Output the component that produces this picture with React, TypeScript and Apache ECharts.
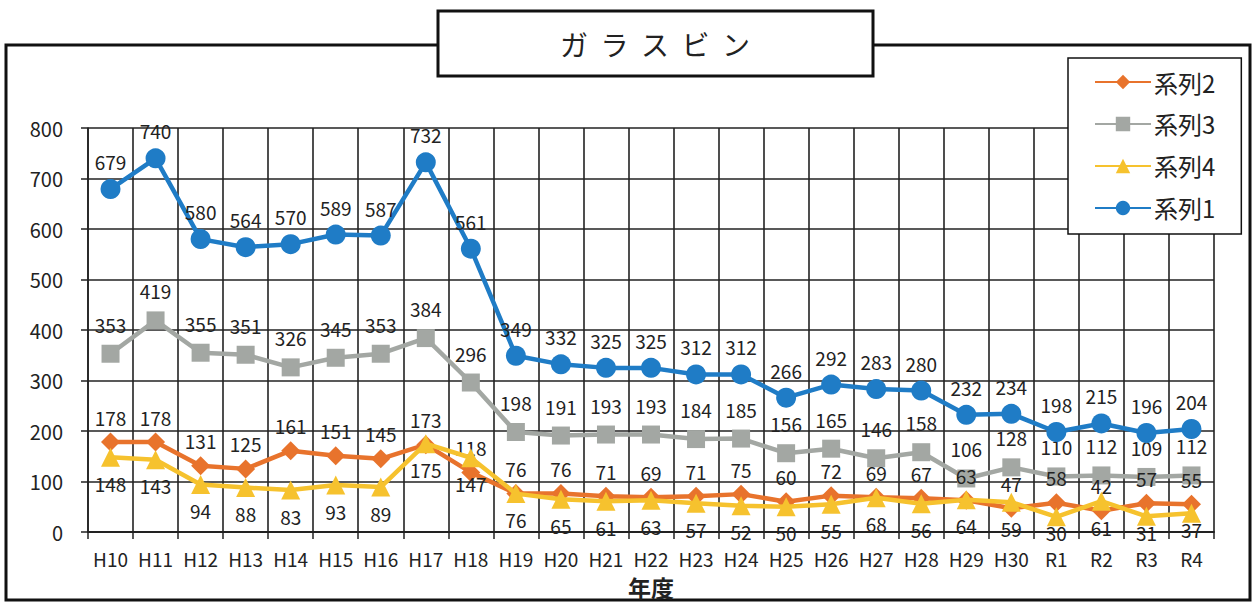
import React, { useEffect, useRef } from "react";
import * as echarts from "echarts";

const categories = ["H10","H11","H12","H13","H14","H15","H16","H17","H18","H19","H20","H21","H22","H23","H24","H25","H26","H27","H28","H29","H30","R1","R2","R3","R4"];
const series1 = [679,740,580,564,570,589,587,732,561,349,332,325,325,312,312,266,292,283,280,232,234,198,215,196,204];
const series2 = [178,178,131,125,161,151,145,173,118,76,76,71,69,71,75,60,72,69,67,63,47,58,42,57,55];
const series3 = [353,419,355,351,326,345,353,384,296,198,191,193,193,184,185,156,165,146,158,106,128,110,112,109,112];
const series4 = [148,143,94,88,83,93,89,175,147,76,65,61,63,57,52,50,55,68,56,64,59,30,61,31,37];
const yTicks = { min: 0, max: 800, interval: 100 };
const titleText = "ガ  ラ  ス  ビ  ン";

const FONT = "'Noto Sans CJK JP', 'Noto Sans', sans-serif";

export default function App() {
  const ref = useRef<HTMLDivElement>(null);
  useEffect(() => {
    if (!ref.current) return;
    const chart = echarts.init(ref.current, undefined, { renderer: "svg" });
    const label = (pos: string, dist: number) => ({
      show: true,
      position: pos,
      distance: dist,
      color: "#222",
      fontSize: 19,
      fontFamily: FONT,
    });
    chart.setOption({
      animation: false,
      backgroundColor: "#fff",
      textStyle: { fontFamily: FONT },
      graphic: [
        {
          type: "rect",
          shape: { x: 6, y: 45, width: 1244, height: 555 },
          style: { fill: "none", stroke: "#111", lineWidth: 3 },
          z: -10,
        },
        {
          type: "rect",
          shape: { x: 438, y: 11, width: 435, height: 65 },
          style: { fill: "#fff", stroke: "#111", lineWidth: 3 },
          z: 10,
        },
        {
          type: "text",
          x: 655,
          y: 44,
          style: {
            text: titleText,
            fill: "#222",
            fontSize: 28,
            fontFamily: FONT,
            align: "center",
            verticalAlign: "middle",
          },
          z: 11,
        },
      ],
      legend: {
        orient: "vertical",
        left: 1068,
        top: 58,
        width: 172,
        padding: [12, 26, 14, 26],
        itemWidth: 56,
        itemHeight: 18,
        itemGap: 18,
        borderColor: "#111",
        borderWidth: 1.5,
        backgroundColor: "#fff",
        textStyle: { fontSize: 24, color: "#222", fontFamily: FONT, padding: [0, 0, 0, -2] },
        data: ["系列2", "系列3", "系列4", "系列1"],
      },
      grid: { left: 88, right: 41, top: 128, bottom: 69 },
      xAxis: {
        type: "category",
        data: categories,
        boundaryGap: true,
        name: "年度",
        nameLocation: "middle",
        nameGap: 43,
        nameTextStyle: { fontSize: 23, fontWeight: "bold", color: "#222", fontFamily: FONT },
        axisLine: { lineStyle: { color: "#222", width: 2 } },
        axisTick: { show: true, length: 7, lineStyle: { color: "#222", width: 1.5 } },
        axisLabel: { fontSize: 19, color: "#222", margin: 17, fontFamily: FONT, interval: 0 },
        splitLine: { show: true, lineStyle: { color: "#222", width: 1.6 } },
      },
      yAxis: {
        type: "value",
        min: yTicks.min,
        max: yTicks.max,
        interval: yTicks.interval,
        axisLine: { show: true, lineStyle: { color: "#222", width: 1.6 } },
        axisTick: { show: true, length: 7, lineStyle: { color: "#222", width: 1.5 } },
        axisLabel: { fontSize: 20, color: "#222", margin: 25, fontFamily: FONT },
        splitLine: { show: true, lineStyle: { color: "#222", width: 1.6 } },
      },
      series: [
        {
          name: "系列2",
          type: "line",
          data: series2,
          symbol: "diamond",
          symbolSize: 19,
          itemStyle: { color: "#e8732c" },
          lineStyle: { width: 4.5, color: "#e8732c" },
          label: label("top", 6),
          z: 3,
        },
        {
          name: "系列3",
          type: "line",
          data: series3,
          symbol: "rect",
          symbolSize: 18,
          itemStyle: { color: "#a3a7a3" },
          lineStyle: { width: 4.5, color: "#a3a7a3" },
          label: label("top", 11),
          z: 2,
        },
        {
          name: "系列4",
          type: "line",
          data: series4.map((v) => (v < 45 ? { value: v, label: { distance: -3 } } : v)),
          symbol: "triangle",
          symbolSize: 19,
          itemStyle: { color: "#f6c22e" },
          lineStyle: { width: 4.5, color: "#f6c22e" },
          label: label("bottom", 7),
          z: 4,
        },
        {
          name: "系列1",
          type: "line",
          data: series1,
          symbol: "circle",
          symbolSize: 20,
          itemStyle: { color: "#1f7cc6" },
          lineStyle: { width: 4.5, color: "#1f7cc6" },
          label: label("top", 8),
          z: 5,
        },
      ],
    });
    return () => chart.dispose();
  }, []);
  return (
    <div
      ref={ref}
      style={{ position: "fixed", left: 0, top: 0, width: 1255, height: 603 }}
    />
  );
}
